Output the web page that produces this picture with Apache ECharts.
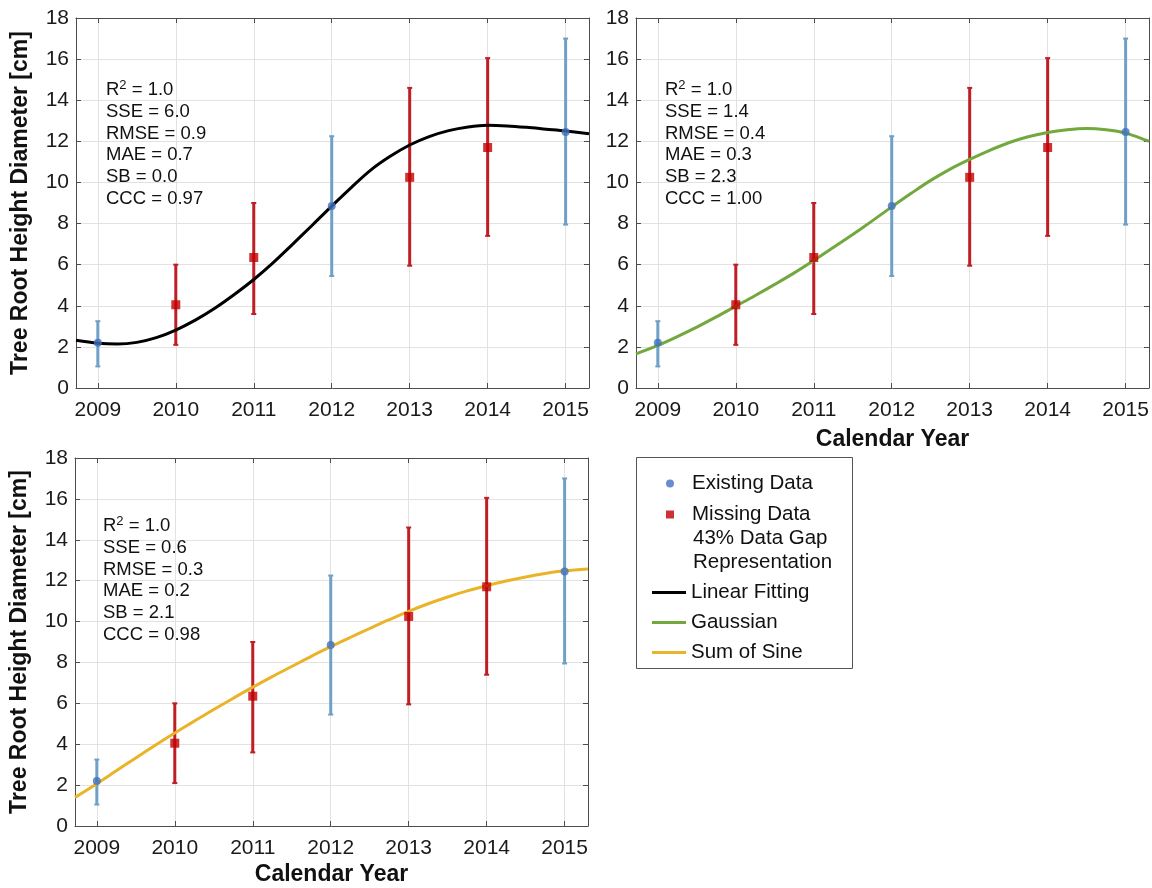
<!DOCTYPE html>
<html><head><meta charset="utf-8">
<script src="https://cdn.jsdelivr.net/npm/echarts@6/dist/echarts.min.js"></script>
<style>html,body{margin:0;padding:0;background:#fff}#c{width:1152px;height:888px}</style>
</head><body><div id="c"></div>
<script>
// ---------------- data ----------------
const existingYears = [2009, 2012, 2015];
const existingValues = [2.2, 8.85, 12.45];
const existingLow = [1.05, 5.45, 7.95];
const existingHigh = [3.25, 12.25, 17.0];

const missingYears = [2010, 2011, 2013, 2014];
const missingValues = [4.05, 6.35, 10.25, 11.7];
const missingLow = [2.1, 3.6, 5.95, 7.4];
const missingHigh = [6.0, 9.0, 14.6, 16.05];

const curveX = [2008.72, 2009.0, 2009.25, 2009.5, 2009.75, 2010.0, 2010.25, 2010.5, 2010.75,
  2011.0, 2011.25, 2011.5, 2011.75, 2012.0, 2012.25, 2012.5, 2012.75, 2013.0, 2013.25,
  2013.5, 2013.75, 2014.0, 2014.25, 2014.5, 2014.75, 2015.0, 2015.3];
const linearFit = [2.32, 2.18, 2.14, 2.22, 2.45, 2.82, 3.3, 3.88, 4.55, 5.28, 6.1, 7.0, 7.92,
  8.85, 9.75, 10.6, 11.27, 11.82, 12.23, 12.52, 12.7, 12.78, 12.75, 12.68, 12.59, 12.5, 12.37];
const gaussianFit = [1.66, 2.07, 2.5, 2.96, 3.46, 3.98, 4.5, 5.04, 5.6, 6.2, 6.83, 7.47, 8.13,
  8.81, 9.47, 10.1, 10.65, 11.12, 11.55, 11.93, 12.22, 12.43, 12.56, 12.62, 12.56, 12.4, 12.0];
const sumOfSineFit = [1.4, 2.07, 2.7, 3.33, 3.95, 4.55, 5.13, 5.7, 6.25, 6.79, 7.31, 7.8, 8.3,
  8.77, 9.22, 9.66, 10.09, 10.5, 10.87, 11.2, 11.5, 11.75, 11.98, 12.18, 12.35, 12.48, 12.57];

const fitNames = ['Linear Fitting', 'Gaussian', 'Sum of Sine'];
const statsLinear = ['R2 = 1.0', 'SSE = 6.0', 'RMSE = 0.9', 'MAE = 0.7', 'SB = 0.0', 'CCC = 0.97'];
const statsGaussian = ['R2 = 1.0', 'SSE = 1.4', 'RMSE = 0.4', 'MAE = 0.3', 'SB = 2.3', 'CCC = 1.00'];
const statsSine = ['R2 = 1.0', 'SSE = 0.6', 'RMSE = 0.3', 'MAE = 0.2', 'SB = 2.1', 'CCC = 0.98'];
const yAxisTitle = 'Tree Root Height Diameter [cm]';
const xAxisTitle = 'Calendar Year';
const legendExtraLines = ['43% Data Gap', 'Representation'];

// ---------------- style ----------------
const FONT = '"Liberation Sans", Arial, Helvetica, sans-serif';
const fitColors = ['#000000', '#72a83e', '#e9b428'];
const fits = [linearFit, gaussianFit, sumOfSineFit];
const stats = [statsLinear, statsGaussian, statsSine];
const BLUE_BAR = '#6ea0c8', BLUE_DOT = '#4170be', RED_BAR = '#be1e24', RED_DOT = '#c00000';
const X_MIN = 2008.72, X_MAX = 2015.3;

const grids = [
  {left: 76, top: 18, width: 513, height: 370},
  {left: 636, top: 18, width: 513, height: 370},
  {left: 75, top: 458, width: 513, height: 368}
];
const xNameGap = [40, 40, 37];

const chart = echarts.init(document.getElementById('c'), null, {renderer: 'canvas'});

const xAxes = [], yAxes = [], series = [];
const frameColor = '#4d4d4d';
grids.forEach((g, i) => {
  xAxes.push({
    gridIndex: i, type: 'value', min: X_MIN, max: X_MAX, minInterval: 1, maxInterval: 1,
    axisLine: {show: true, lineStyle: {color: frameColor, width: 1}},
    axisTick: {show: true, inside: true, length: 5, lineStyle: {color: frameColor}},
    axisLabel: {show: true, margin: 12, fontSize: 21, color: '#1a1a1a', fontFamily: FONT,
      showMinLabel: false, showMaxLabel: false,
      formatter: v => (Math.abs(v - Math.round(v)) < 1e-6 ? String(Math.round(v)) : '')},
    splitLine: {show: true, lineStyle: {color: '#e2e2e2', width: 1}},
    name: i === 0 ? '' : xAxisTitle, nameLocation: 'middle', nameGap: xNameGap[i],
    nameTextStyle: {fontSize: 23, fontWeight: 'bold', color: '#111', fontFamily: FONT}
  });
  yAxes.push({
    gridIndex: i, type: 'value', min: 0, max: 18, interval: 2,
    axisLine: {show: true, lineStyle: {color: frameColor, width: 1}},
    axisTick: {show: true, inside: true, length: 5, lineStyle: {color: frameColor}},
    axisLabel: {show: true, margin: 7, fontSize: 21, color: '#1a1a1a', fontFamily: FONT},
    splitLine: {show: true, lineStyle: {color: '#e2e2e2', width: 1}},
    name: i === 1 ? '' : yAxisTitle, nameLocation: 'middle', nameGap: 44,
    nameTextStyle: {fontSize: 23, fontWeight: 'bold', color: '#111', fontFamily: FONT}
  });
});
// secondary (top / right) axes to close the box with inward ticks
grids.forEach((g, i) => {
  xAxes.push({
    gridIndex: i, type: 'value', position: 'top', min: X_MIN, max: X_MAX, minInterval: 1, maxInterval: 1,
    axisLine: {show: true, onZero: false, lineStyle: {color: frameColor, width: 1}},
    axisTick: {show: true, inside: true, length: 5, lineStyle: {color: frameColor}},
    axisLabel: {show: false}, splitLine: {show: false}
  });
  yAxes.push({
    gridIndex: i, type: 'value', position: 'right', min: 0, max: 18, interval: 2,
    axisLine: {show: true, onZero: false, lineStyle: {color: frameColor, width: 1}},
    axisTick: {show: true, inside: true, length: 5, lineStyle: {color: frameColor}},
    axisLabel: {show: false}, splitLine: {show: false}
  });
});

function errRender(color) {
  return function (params, api) {
    const x = api.value(0), lo = api.value(1), hi = api.value(2);
    const a = api.coord([x, lo]), b = api.coord([x, hi]);
    const cap = 2.5;
    return {type: 'group', children: [
      {type: 'line', shape: {x1: a[0], y1: a[1], x2: b[0], y2: b[1]}, style: {stroke: color, lineWidth: 3}},
      {type: 'line', shape: {x1: a[0] - cap, y1: a[1], x2: a[0] + cap, y2: a[1]}, style: {stroke: color, lineWidth: 2}},
      {type: 'line', shape: {x1: b[0] - cap, y1: b[1], x2: b[0] + cap, y2: b[1]}, style: {stroke: color, lineWidth: 2}}
    ]};
  };
}

grids.forEach((g, i) => {
  series.push({
    type: 'custom', name: 'Existing error ' + i, xAxisIndex: i, yAxisIndex: i, z: 2,
    renderItem: errRender(BLUE_BAR), encode: {x: 0, y: [1, 2]},
    data: existingYears.map((y, k) => [y, existingLow[k], existingHigh[k]])
  });
  series.push({
    type: 'custom', name: 'Missing error ' + i, xAxisIndex: i, yAxisIndex: i, z: 2,
    renderItem: errRender(RED_BAR), encode: {x: 0, y: [1, 2]},
    data: missingYears.map((y, k) => [y, missingLow[k], missingHigh[k]])
  });
  series.push({
    type: 'line', name: fitNames[i], xAxisIndex: i, yAxisIndex: i, z: 3,
    smooth: 0.35, symbol: 'none', color: fitColors[i],
    lineStyle: {color: fitColors[i], width: 3},
    data: curveX.map((x, k) => [x, fits[i][k]])
  });
  series.push({
    type: 'scatter', name: 'Existing Data', xAxisIndex: i, yAxisIndex: i, z: 4,
    symbol: 'circle', symbolSize: 8, itemStyle: {color: BLUE_DOT},
    data: existingYears.map((y, k) => [y, existingValues[k]])
  });
  series.push({
    type: 'scatter', name: 'Missing Data', xAxisIndex: i, yAxisIndex: i, z: 4,
    symbol: 'rect', symbolSize: 9, itemStyle: {color: RED_DOT},
    data: missingYears.map((y, k) => [y, missingValues[k]])
  });
});

function statsText(lines) {
  return lines.map((l, k) => k === 0 ? l.replace('R2', 'R{s|2}') : l).join('\n');
}
const statPos = [[106, 79], [665, 79], [103, 515]];
const graphics = statPos.map((p, i) => ({
  type: 'text', left: p[0], top: p[1], z: 10,
  style: {text: statsText(stats[i]), fontSize: 18.5, lineHeight: 21.8, fill: '#111', fontFamily: FONT,
    rich: {s: {fontSize: 13, lineHeight: 21.8, verticalAlign: 'top', fill: '#111', fontFamily: FONT}}}
}));
graphics.push({type: 'rect', shape: {x: 636.5, y: 457.5, width: 216, height: 211},
  style: {fill: 'none', stroke: '#555', lineWidth: 1}, z: 1});
graphics.push({type: 'text', left: 693, top: 526, z: 10,
  style: {text: legendExtraLines.join('\n'), fontSize: 20.5, lineHeight: 24.5, fill: '#111', fontFamily: FONT}});

const legendCommon = {
  orient: 'vertical', itemWidth: 34, itemHeight: 8, itemGap: 10, padding: 0,
  textStyle: {fontSize: 20.5, color: '#111', fontFamily: FONT},
  selectedMode: false
};

chart.setOption({
  animation: false,
  backgroundColor: '#ffffff',
  grid: grids.map(g => Object.assign({outerBoundsMode: 'none'}, g)),
  xAxis: xAxes, yAxis: yAxes,
  legend: [
    Object.assign({}, legendCommon, {left: 666, top: 473, data: [
      {name: 'Existing Data', icon: 'circle'},
      {name: 'Missing Data', icon: 'path://M0,0H10V10H0Z'}
    ]}),
    Object.assign({}, legendCommon, {left: 652, top: 582, itemGap: 9,
      data: fitNames.map(n => ({name: n, icon: 'path://M0,0H32V3H0Z'}))})
  ],
  graphic: graphics,
  series: series
});
</script></body></html>
